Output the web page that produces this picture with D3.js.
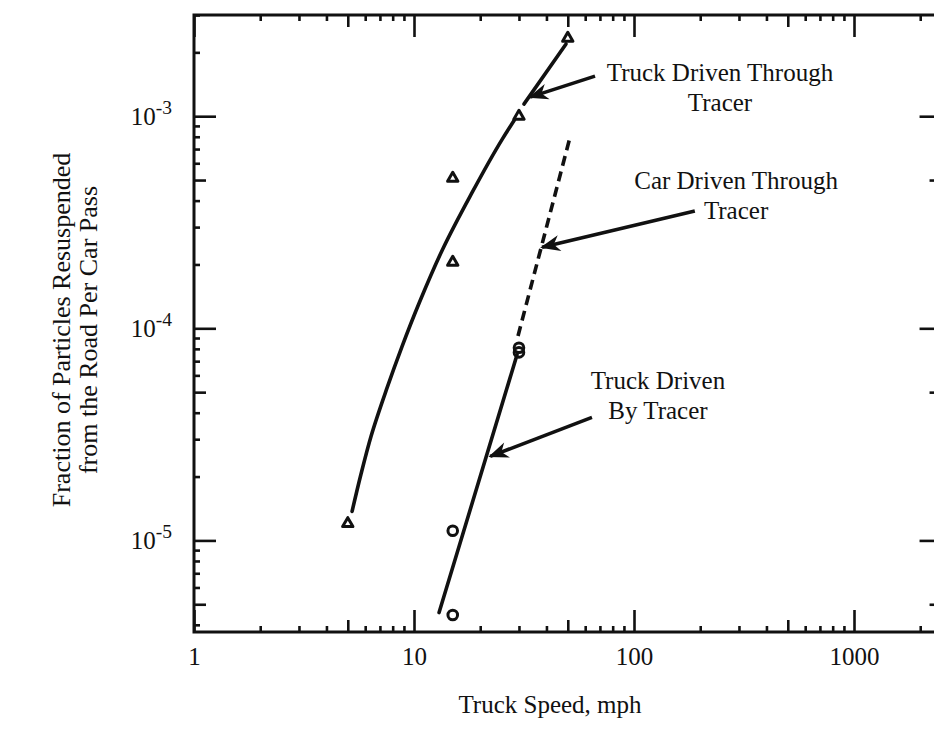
<!DOCTYPE html>
<html><head><meta charset="utf-8">
<script src="https://cdn.jsdelivr.net/npm/d3@7"></script>
<style>
body{margin:0;background:#fff}
svg text{font-family:"Liberation Serif","Times New Roman",serif;fill:#111}
</style>
</head><body><svg id="c" width="934" height="756"></svg>
<script>
// ---------- data ----------
const xDomain = [1, 2500];
const yDomain = [3.7e-6, 3.0e-3];
const xMajor = [1, 10, 100, 1000];
const xLabels = ["1", "10", "100", "1000"];
const yMajor = [1e-3, 1e-4, 1e-5];
const yExponents = ["-3", "-4", "-5"];

// Truck driven through tracer (triangles)
const throughSpeed = [5, 15, 15, 30, 50];
const throughFrac = [1.2e-5, 5.1e-4, 2.05e-4, 1.0e-3, 2.33e-3];
// Truck driven by tracer (circles)
const bySpeed = [15, 15, 30, 30];
const byFrac = [1.11e-5, 4.45e-6, 8.1e-5, 7.7e-5];

// fitted curves
const throughFitSpeed1 = [5.23, 5.74, 6.38, 7.50, 8.82, 10.6, 13.5, 18.0, 25.2, 28.6];
const throughFitFrac1 = [1.37e-5, 2.05e-5, 3.1e-5, 5.15e-5, 8.2e-5, 1.33e-4, 2.36e-4, 4.2e-4, 7.8e-4, 9.6e-4];
const throughFitSpeed2 = [31.6, 49.1];
const throughFitFrac2 = [1.14e-3, 2.19e-3];
const byFitSpeed = [13.0, 29.4];
const byFitFrac = [4.57e-6, 7.5e-5];
const carFitSpeed = [29.7, 51.2];
const carFitFrac = [9.2e-5, 7.96e-4];

// annotations (data coordinates)
const annoLines = [["Truck Driven Through", "Tracer"], ["Car Driven Through", "Tracer"], ["Truck Driven", "By Tracer"]];
const annoTextSpeed = [246, 291, 128.5];
const annoTextFrac = [1.46e-3, 4.53e-4, 5.15e-5];
const arrowTailSpeed = [66.5, 189, 64.4];
const arrowTailFrac = [1.545e-3, 3.57e-4, 3.8e-5];
const arrowTipSpeed = [33.7, 38.2, 22.2];
const arrowTipFrac = [1.23e-3, 2.41e-4, 2.49e-5];

// ---------- layout ----------
const L = 194, T = 15, B = 632;
const R = L + 220 * Math.log10(xDomain[1]);
const svg = d3.select("#c");
const x = d3.scaleLog().domain(xDomain).range([L, R]);
const y = d3.scaleLog().domain(yDomain).range([B, T]);
const FS = 25;

function multiples(lo, hi, ks) {
  const out = [];
  for (let e = Math.floor(Math.log10(lo)); e <= Math.ceil(Math.log10(hi)); e++) {
    for (const k of ks) { const v = k * Math.pow(10, e); if (v >= lo * 0.999 && v <= hi * 1.001) out.push(v); }
  }
  return out;
}
const xMinor = multiples(xDomain[0], xDomain[1], [2, 3, 4, 6, 7, 8, 9]);
const xMid = multiples(xDomain[0], xDomain[1], [5]);
const yMinor = multiples(yDomain[0], yDomain[1], [2, 3, 4, 6, 7, 8, 9]);
const yMid = multiples(yDomain[0], yDomain[1], [5]);

const tickSets = [[xMajor, 22], [xMid, 12], [xMinor, 6]];
const yTickSets = [[yMajor, 22], [yMid, 12], [yMinor, 6]];

function styleAxis(g) {
  g.select(".domain").remove();
  g.selectAll(".tick line").attr("stroke", "#111").attr("stroke-width", 2.6);
}
for (const [vals, len] of tickSets) {
  svg.append("g").attr("transform", `translate(0,${B})`)
    .call(d3.axisBottom(x).tickValues(vals).tickSize(-len).tickFormat("")).call(styleAxis);
  svg.append("g").attr("transform", `translate(0,${T})`)
    .call(d3.axisTop(x).tickValues(vals).tickSize(-len).tickFormat("")).call(styleAxis);
}
for (const [vals, len] of yTickSets) {
  svg.append("g").attr("transform", `translate(${L},0)`)
    .call(d3.axisLeft(y).tickValues(vals).tickSize(-len).tickFormat("")).call(styleAxis);
  svg.append("g").attr("transform", `translate(${R},0)`)
    .call(d3.axisRight(y).tickValues(vals).tickSize(-len).tickFormat("")).call(styleAxis);
}
// tick labels
const xl = svg.append("g").attr("transform", `translate(0,${B})`)
  .call(d3.axisBottom(x).tickValues(xMajor).tickSize(0).tickPadding(15).tickFormat((d, i) => xLabels[i]));
xl.select(".domain").remove();
xl.selectAll("text").attr("font-size", FS).attr("font-family", null);
const yl = svg.append("g").attr("transform", `translate(${L},0)`)
  .call(d3.axisLeft(y).tickValues(yMajor).tickSize(0).tickPadding(22).tickFormat(""));
yl.select(".domain").remove();
yl.selectAll("text").each(function (d, i) {
  const t = d3.select(this).attr("font-size", FS).attr("font-family", null).attr("dy", "0.32em");
  t.append("tspan").text("10");
  t.append("tspan").attr("font-size", FS * 0.78).attr("dy", "-0.55em").text(yExponents[i]);
});

// frame
svg.append("rect").attr("x", L).attr("y", T).attr("width", R - L).attr("height", B - T)
  .attr("fill", "none").attr("stroke", "#111").attr("stroke-width", 3);

// curves
const line = d3.line().x(d => x(d[0])).y(d => y(d[1])).curve(d3.curveMonotoneY);
const zip = (a, b) => a.map((v, i) => [v, b[i]]);
const curveStyle = p => p.attr("fill", "none").attr("stroke", "#111").attr("stroke-width", 3.6).attr("stroke-linecap", "round");
svg.append("path").datum(zip(throughFitSpeed1, throughFitFrac1)).attr("d", line).call(curveStyle);
svg.append("path").datum(zip(throughFitSpeed2, throughFitFrac2)).attr("d", line).call(curveStyle);
svg.append("path").datum(zip(byFitSpeed, byFitFrac)).attr("d", line).call(curveStyle);
svg.append("path").datum(zip(carFitSpeed, carFitFrac)).attr("d", line).call(curveStyle)
  .attr("stroke-dasharray", "10,6").attr("stroke-linecap", "butt");

// markers
svg.append("g").selectAll("path").data(zip(throughSpeed, throughFrac)).join("path")
  .attr("d", d3.symbol(d3.symbolTriangle, 46))
  .attr("transform", d => `translate(${x(d[0])},${y(d[1])})`)
  .attr("fill", "#fff").attr("stroke", "#111").attr("stroke-width", 3).attr("stroke-linejoin", "round");
svg.append("g").selectAll("circle").data(zip(bySpeed, byFrac)).join("circle")
  .attr("cx", d => x(d[0])).attr("cy", d => y(d[1])).attr("r", 4.8)
  .attr("fill", "none").attr("stroke", "#111").attr("stroke-width", 3);

// arrows
svg.append("defs").append("marker").attr("id", "ah").attr("viewBox", "-20 -10 23 20")
  .attr("refX", 0).attr("refY", 0).attr("markerWidth", 23).attr("markerHeight", 20)
  .attr("markerUnits", "userSpaceOnUse").attr("orient", "auto")
  .append("path").attr("d", "M2,0 L-18,-8 L-12,0 L-18,8 Z").attr("fill", "#111");
annoLines.forEach((lines, i) => {
  svg.append("line")
    .attr("x1", x(arrowTailSpeed[i])).attr("y1", y(arrowTailFrac[i]))
    .attr("x2", x(arrowTipSpeed[i])).attr("y2", y(arrowTipFrac[i]))
    .attr("stroke", "#111").attr("stroke-width", 3.6).attr("marker-end", "url(#ah)");
  const t = svg.append("text").attr("text-anchor", "middle").attr("font-size", FS)
    .attr("x", x(annoTextSpeed[i])).attr("y", y(annoTextFrac[i]));
  lines.forEach((s, j) => t.append("tspan").attr("x", x(annoTextSpeed[i])).attr("dy", j ? 30 : 0).text(s));
});

// axis titles
svg.append("text").attr("x", 550).attr("y", 713).attr("text-anchor", "middle").attr("font-size", FS)
  .text("Truck Speed, mph");
svg.append("text").attr("transform", "translate(70,330) rotate(-90)").attr("text-anchor", "middle")
  .attr("font-size", 26).text("Fraction of Particles Resuspended");
svg.append("text").attr("transform", "translate(97,330) rotate(-90)").attr("text-anchor", "middle")
  .attr("font-size", 26).text("from the Road Per Car Pass");
</script>
</body></html>
